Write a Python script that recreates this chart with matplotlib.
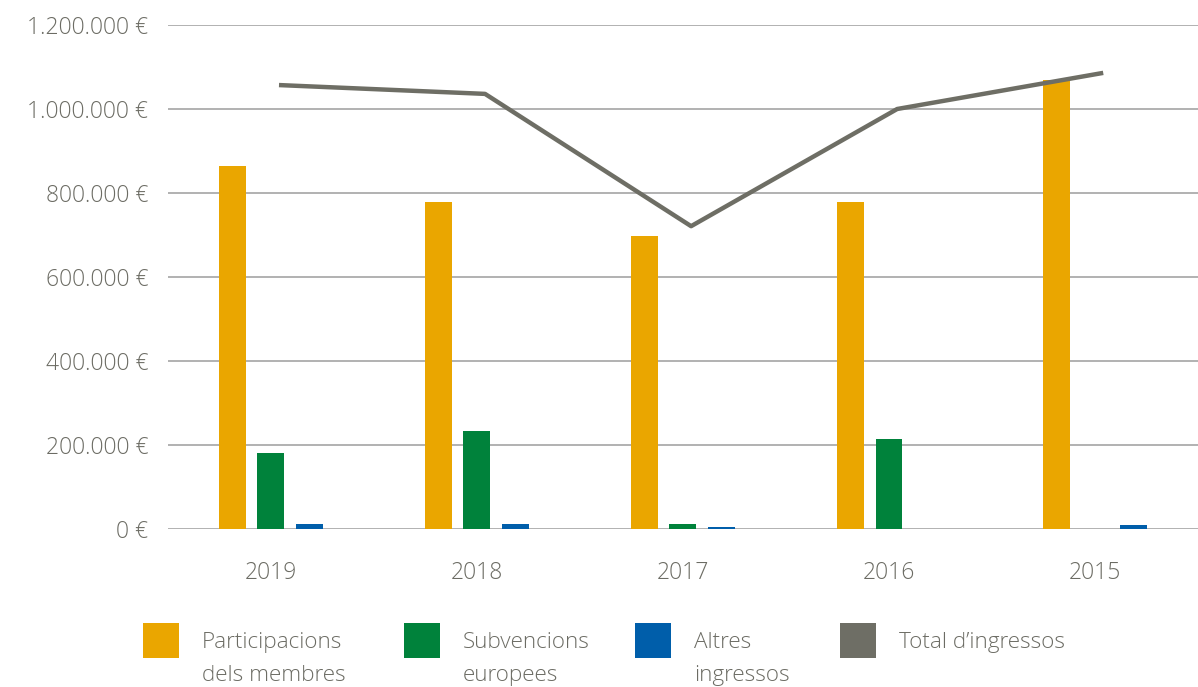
import numpy as np
import matplotlib.pyplot as plt
from matplotlib.patches import Rectangle

# data (euros)
years = ["2019", "2018", "2017", "2016", "2015"]
participacions = [864000, 778000, 698000, 778000, 1069000]
subvencions = [181000, 233000, 12000, 214000, 0]
altres = [12000, 12000, 5000, 0, 10000]
total = [1057000, 1036000, 721000, 1000000, 1086000]

legend_labels = ["Participacions\ndels membres", "Subvencions\neuropees",
                 "Altres\ningressos", "Total d\u2019ingressos"]

# colours
orange = "#EAA600"
green = "#00823B"
blue = "#005EAA"
grey = "#6E6E65"
textc = "#6C6C64"

plt.rcParams['font.family'] = ['Open Sans', 'DejaVu Sans']
plt.rcParams['font.weight'] = 'light'

fig = plt.figure(figsize=(11.98, 6.87), dpi=100)
ax = fig.add_axes([0.140, 0.230, 0.860, 0.7336])

x = np.arange(len(years))
w = 0.13
ax.bar(x - 0.187, participacions, w, color=orange, zorder=3)
ax.bar(x, subvencions, w, color=green, zorder=3)
ax.bar(x + 0.187, altres, w, color=blue, zorder=3)
ax.plot(x + 0.04, total, color=grey, lw=3.2, zorder=4, solid_capstyle='butt')

ax.set_xlim(-0.5, 4.5)
ax.set_ylim(0, 1200000)
yt = np.arange(0, 1200001, 200000)
ax.set_yticks(yt)
ax.set_yticklabels([f"{v:,.0f} \u20ac".replace(",", ".") for v in yt])
ax.set_xticks(x)
ax.set_xticklabels(years)
ax.tick_params(axis='both', length=0, labelsize=16.5, colors=textc)
ax.tick_params(axis='y', pad=14)
ax.tick_params(axis='x', pad=23)
ax.grid(axis='y', color="#ABABAB", lw=1.3, zorder=0)
ax.set_axisbelow(True)
for s in ax.spines.values():
    s.set_visible(False)

# legend, placed by hand
sq_x = [143, 404, 635, 840]
cols = [orange, green, blue, grey]
W, H = 1198, 687
for sx, c, lab in zip(sq_x, cols, legend_labels):
    fig.add_artist(Rectangle((sx / W, 1 - 658 / H), 36 / W, 35 / H,
                             transform=fig.transFigure, color=c, lw=0))
    fig.text((sx + 59) / W, 1 - 632 / H, lab, fontsize=16.2, color=textc,
             va='top', ha='left', linespacing=1.78)

fig.savefig("out.png", dpi=100)
